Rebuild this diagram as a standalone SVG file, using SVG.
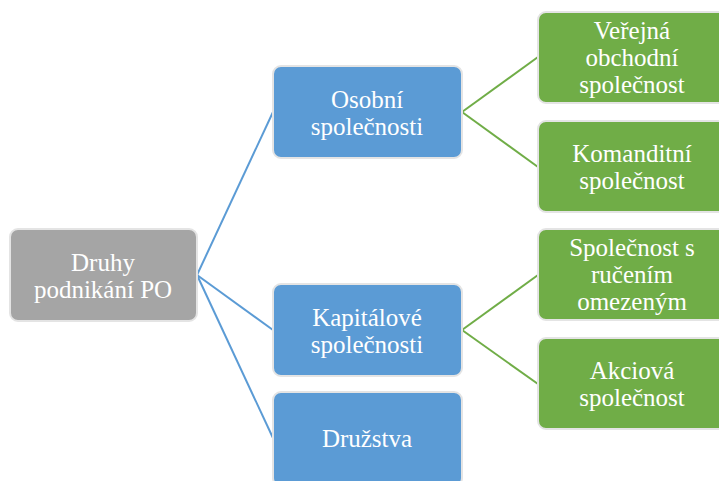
<svg xmlns="http://www.w3.org/2000/svg" width="719" height="481" viewBox="0 0 719 481">
<style>
.box{stroke:#e4e4e4;stroke-width:2}
.gray{fill:#a5a5a5}
.blue{fill:#5b9bd5}
.green{fill:#70ad47}
text{font-family:"Liberation Serif",Tinos,"Times New Roman",Times,"DejaVu Serif",serif;font-size:25px;fill:#ffffff;text-anchor:middle}
.cb{stroke:#5b9bd5;stroke-width:2;fill:none}
.cg{stroke:#70ad47;stroke-width:2;fill:none}
</style>
<rect width="719" height="481" fill="#ffffff"/>
<g id="connectors">
<path class="cb" d="M197,275 L273,112"/>
<path class="cb" d="M197,275 L273,330"/>
<path class="cb" d="M197,275 L273,438"/>
<path class="cg" d="M462,112 L538,57"/>
<path class="cg" d="M462,112 L538,167"/>
<path class="cg" d="M462,330 L538,275"/>
<path class="cg" d="M462,330 L538,384"/>
</g>
<g id="root">
<rect class="box gray" x="10" y="229" width="187" height="92" rx="8"/>
<text x="103" y="271" font-family="Liberation Serif, serif">Druhy</text>
<text x="103" y="298" font-family="Liberation Serif, serif">podnikání PO</text>
</g>
<g id="osobni">
<rect class="box blue" x="273" y="66" width="189" height="92" rx="8"/>
<text x="367" y="108">Osobní</text>
<text x="367" y="135">společnosti</text>
</g>
<g id="kapitalove">
<rect class="box blue" x="273" y="284" width="189" height="92" rx="8"/>
<text x="367" y="326">Kapitálové</text>
<text x="367" y="353">společnosti</text>
</g>
<g id="druzstva">
<rect class="box blue" x="273" y="392" width="189" height="94" rx="8"/>
<text x="367" y="447">Družstva</text>
</g>
<g id="vos">
<rect class="box green" x="538" y="12" width="190" height="91" rx="8"/>
<text x="632" y="39">Veřejná</text>
<text x="632" y="66">obchodní</text>
<text x="632" y="93">společnost</text>
</g>
<g id="ks">
<rect class="box green" x="538" y="121" width="190" height="91" rx="8"/>
<text x="632" y="162">Komanditní</text>
<text x="632" y="189">společnost</text>
</g>
<g id="sro">
<rect class="box green" x="538" y="229" width="190" height="91" rx="8"/>
<text x="632" y="256">Společnost s</text>
<text x="632" y="283">ručením</text>
<text x="632" y="310">omezeným</text>
</g>
<g id="as">
<rect class="box green" x="538" y="338" width="190" height="91" rx="8"/>
<text x="632" y="379">Akciová</text>
<text x="632" y="406">společnost</text>
</g>
</svg>
